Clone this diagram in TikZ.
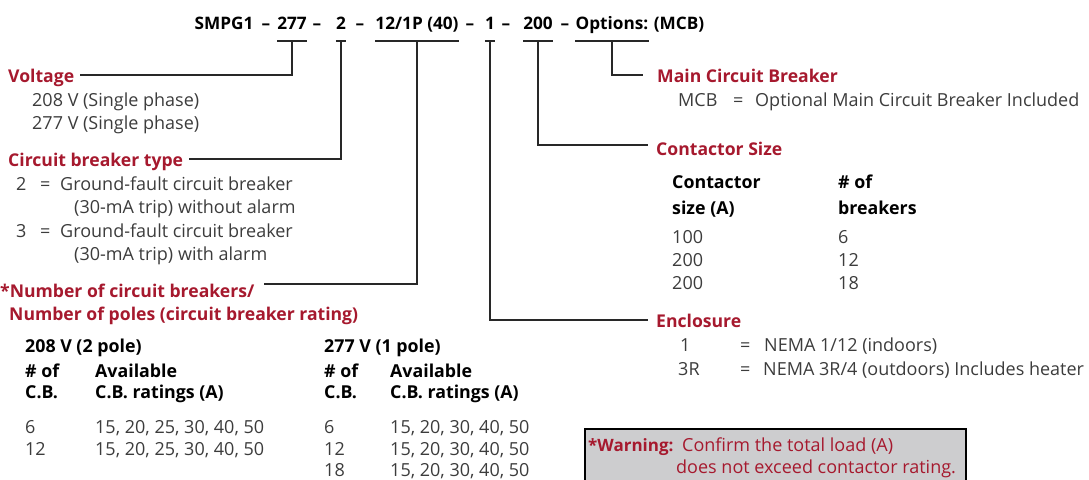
\documentclass[tikz,border=0pt]{standalone}
\usepackage{fontspec}
\setmainfont{Open Sans}
\usepackage{xcolor}
\definecolor{headred}{RGB}{166, 25, 46}
\definecolor{bodygray}{RGB}{60, 60, 60}
\definecolor{boxgray}{RGB}{205, 205, 207}
\definecolor{linegray}{RGB}{40, 40, 40}
\usetikzlibrary{positioning}

\begin{document}
\begin{tikzpicture}[
        x=1pt, y=-1pt,
        every node/.style={inner sep=0pt, anchor=base west},
        code/.style={font=\fontsize{17.2}{20}\selectfont\bfseries, text=black, anchor=base},
        head/.style={font=\fontsize{17.6}{20}\selectfont\bfseries, text=headred, text height=14pt, text depth=0pt},
        body/.style={font=\fontsize{18}{20}\selectfont, text=bodygray},
        colhead/.style={font=\fontsize{17.8}{20}\selectfont\bfseries, text=black},
        warntext/.style={font=\fontsize{18}{20}\selectfont, text=headred},
        link/.style={draw=linegray, line width=1.2pt}
    ]
        \useasboundingbox (0,0) rectangle (1089,479);

        % Model code
        \node[code] (csmpg) at (224,29) {SMPG1};
        \node[code] (d1) at (266,29) {--};
        \node[code] (c277) at (292,29) {277};
        \node[code] (d2) at (317,29) {--};
        \node[code] (c2) at (341,29) {2};
        \node[code] (d3) at (360,29) {--};
        \node[code] (c12) at (417,29) {12/1P (40)};
        \node[code] (d4) at (470,29) {--};
        \node[code] (c1) at (490,29) {1};
        \node[code] (d5) at (506,29) {--};
        \node[code] (c200) at (538,29) {200};
        \node[code] (d6) at (565,29) {--};
        \node[code] (copt) at (612,29) {Options:};
        \node[code] (cmcb) at (679,29) {(MCB)};

        % Left column
        \node[head] (hvolt) at (8,82) {Voltage};
        \node[body] (v208) at (32,106) {208 V (Single phase)};
        \node[body] (v277) at (32,129) {277 V (Single phase)};

        \node[head] (hcbt) at (8,166) {Circuit breaker type};
        \node[body] (t2) at (16,190) {2};
        \node[body] (t2eq) at (40,190) {=};
        \node[body] (t2a) at (60,190) {Ground-fault circuit breaker};
        \node[body] (t2b) at (74,213) {(30-mA trip) without alarm};
        \node[body] (t3) at (16,237) {3};
        \node[body] (t3eq) at (40,237) {=};
        \node[body] (t3a) at (60,237) {Ground-fault circuit breaker};
        \node[body] (t3b) at (74,260) {(30-mA trip) with alarm};

        \node[head] (hnum) at (0,297) {*Number of circuit breakers/};
        \node[head] (hpole) at (9,320) {Number of poles (circuit breaker rating)};

        % C.B. ratings tables
        \node[colhead] (p208) at (25,352) {208 V (2 pole)};
        \node[colhead] (pa1) at (25,377) {\# of};
        \node[colhead] (pa2) at (95,377) {Available};
        \node[colhead] (pa3) at (25,398) {C.B.};
        \node[colhead] (pa4) at (95,398) {C.B. ratings (A)};
        \node[body] (pa5) at (25,433) {6};
        \node[body] (pa6) at (95,433) {15, 20, 25, 30, 40, 50};
        \node[body] (pa7) at (25,455) {12};
        \node[body] (pa8) at (95,455) {15, 20, 25, 30, 40, 50};

        \node[colhead] (p277) at (324,352) {277 V (1 pole)};
        \node[colhead] (pb1) at (324,377) {\# of};
        \node[colhead] (pb2) at (390,377) {Available};
        \node[colhead] (pb3) at (324,398) {C.B.};
        \node[colhead] (pb4) at (390,398) {C.B. ratings (A)};
        \foreach \n/\yy in {6/433, 12/455, 18/476} {
            \node[body] (pbn\n) at (324,\yy) {\n};
            \node[body] (pbr\n) at (390,\yy) {15, 20, 30, 40, 50};
        }

        % Right column
        \node[head] (hmcb) at (657,82) {Main Circuit Breaker};
        \node[body] (m1) at (678,106) {MCB};
        \node[body] (m2) at (733,106) {=};
        \node[body] (m3) at (755,106) {Optional Main Circuit Breaker Included};

        \node[head] (hcont) at (656,155) {Contactor Size};
        \node[colhead] (k1) at (672,188) {Contactor};
        \node[colhead] (k2) at (838,188) {\# of};
        \node[colhead] (k3) at (672,214) {size (A)};
        \node[colhead] (k4) at (838,214) {breakers};
        \foreach \s/\b/\yy in {100/6/243, 200/12/266, 200/18/289} {
            \node[body] (ks\b) at (672,\yy) {\s};
            \node[body] (kb\b) at (838,\yy) {\b};
        }

        \node[head] (hencl) at (656,327) {Enclosure};
        \node[body] (e1) at (680,351) {1};
        \node[body] (e1eq) at (740,351) {=};
        \node[body] (e1t) at (764,351) {NEMA 1/12 (indoors)};
        \node[body] (e3) at (678,375) {3R};
        \node[body] (e3eq) at (740,375) {=};
        \node[body] (e3t) at (763,375) {NEMA 3R/4 (outdoors) Includes heater};

        % Warning box
        \node[draw=black, line width=1.5pt, fill=boxgray, minimum width=381pt, minimum height=80pt, anchor=north west] (warnbox) at (584,428) {};
        \node[warntext, font=\fontsize{17}{20}\selectfont\bfseries] (w1) at (588,451) {*Warning:};
        \node[warntext] (w2) at (682,451) {Confirm the total load (A)};
        \node[warntext] (w3) at (676,473) {does not exceed contactor rating.};

        % Underlines and leaders
        \foreach \c in {c277, c2, c12, c1, c200, copt}
            \draw[link] ([yshift=-12pt]\c.base west) -- ([yshift=-12pt]\c.base east);
        \draw[link] ([yshift=-12pt]c277.base) |- ([xshift=6pt]hvolt.east);
        \draw[link] ([yshift=-12pt]c2.base) |- ([xshift=6pt]hcbt.east);
        \draw[link] ([yshift=-12pt]c12.base) |- ([xshift=9pt, yshift=6pt]hnum.east);
        \draw[link] ([yshift=-12pt]c1.base) |- ([xshift=-8pt]hencl.west);
        \draw[link] ([yshift=-12pt]c200.base) |- ([xshift=-8pt, yshift=3pt]hcont.west);
        \draw[link] ([yshift=-12pt]copt.base) |- ([xshift=-14pt]hmcb.west);

    \end{tikzpicture}
\end{document}
